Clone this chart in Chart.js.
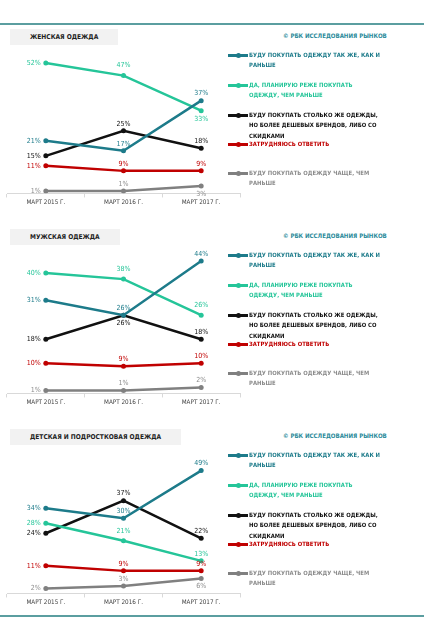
<!DOCTYPE html>
<html>
<head>
<meta charset="utf-8">
<script src="https://cdn.jsdelivr.net/npm/chart.js@4.4.1/dist/chart.umd.min.js"></script>
<style>
  html, body { margin: 0; padding: 0; background: #fff; }
  body { width: 424px; height: 631px; position: relative; overflow: hidden;
         font-family: "Liberation Sans Narrow", "DejaVu Sans Condensed", sans-serif; }
  .rule { position: absolute; left: 0; width: 424px; background: #5b9ea0; }
  .panel { position: absolute; left: 0; width: 424px; height: 200px; }
  .title { position: absolute; left: 10px; top: 9px; height: 16px; line-height: 16px;
           padding: 0 20px; background: #f2f2f2; font-size: 6.6px; font-weight: bold; color: #222; }
  .wrap { position: absolute; left: 0; top: 18px; width: 246px; height: 172px; }
  .copy { position: absolute; left: 283px; top: 12px; font-size: 6.1px; font-weight: bold; color: #2a8a9a; white-space: nowrap; }
  .leg { position: absolute; left: 228px; font-size: 5.9px; font-weight: bold; line-height: 10.3px; }
  .leg .mk { position: absolute; left: 0; top: 4px; width: 20px; height: 2.5px; }
  .leg .dot { position: absolute; left: 8px; top: -1.5px; width: 5px; height: 5px; border-radius: 50%; }
  .leg .tx { margin-left: 21px; white-space: nowrap; }
</style>
</head>
<body>
<div class="rule" style="top:23px;height:2px;"></div>
<div class="rule" style="top:615px;height:1.5px;"></div>
<script>
/* категории и подписи */
const categories = ['МАРТ 2015 Г.', 'МАРТ 2016 Г.', 'МАРТ 2017 Г.'];
const panelTitles = ['ЖЕНСКАЯ ОДЕЖДА', 'МУЖСКАЯ ОДЕЖДА', 'ДЕТСКАЯ И ПОДРОСТКОВАЯ ОДЕЖДА'];
const copyright = '© РБК ИССЛЕДОВАНИЯ РЫНКОВ';
const seriesNames = [
  ['БУДУ ПОКУПАТЬ ОДЕЖДУ ТАК ЖЕ, КАК И', 'РАНЬШЕ'],
  ['ДА, ПЛАНИРУЮ РЕЖЕ ПОКУПАТЬ', 'ОДЕЖДУ, ЧЕМ РАНЬШЕ'],
  ['БУДУ ПОКУПАТЬ СТОЛЬКО ЖЕ ОДЕЖДЫ,', 'НО БОЛЕЕ ДЕШЕВЫХ БРЕНДОВ, ЛИБО СО', 'СКИДКАМИ'],
  ['ЗАТРУДНЯЮСЬ ОТВЕТИТЬ'],
  ['БУДУ ПОКУПАТЬ ОДЕЖДУ ЧАЩЕ, ЧЕМ', 'РАНЬШЕ'],
];
const seriesColors = ['#1d7b8a', '#25c599', '#111111', '#c00000', '#808080'];
const labelColors  = ['#1d7b8a', '#25c599', '#111111', '#c00000', '#8c8c8c'];

/* значения, % (ряды в порядке легенды) */
const womenData = [[21, 17, 37], [52, 47, 33], [15, 25, 18], [11, 9, 9], [1, 1, 3]];
const menData   = [[31, 26, 44], [40, 38, 26], [18, 26, 18], [10, 9, 10], [1, 1, 2]];
const kidsData  = [[34, 30, 49], [28, 21, 13], [24, 37, 22], [11, 9, 9], [2, 3, 6]];
const yMax = [60, 50, 60];

/* положение подписей: l - слева, t - сверху, T - выше, b - снизу */
const womenPos = [['l','t','t'], ['l','T','b'], ['l','t','t'], ['l','t','t'], ['l','t','b']];
const menPos   = [['l','t','t'], ['l','T','T'], ['l','b','t'], ['l','t','t'], ['l','t','t']];
const kidsPos  = [['l','t','t'], ['l','T','t'], ['l','t','t'], ['l','t','t'], ['l','t','b']];

const panels = [
  { data: womenData, pos: womenPos },
  { data: menData,   pos: menPos },
  { data: kidsData,  pos: kidsPos },
];

const legendRows = [35, 65, 95, 124, 153];
const FONT = '"Liberation Sans Narrow", "DejaVu Sans Condensed", sans-serif';

const pointLabels = {
  id: 'pointLabels',
  afterDatasetsDraw(chart, args, opts) {
    const ctx = chart.ctx;
    ctx.save();
    ctx.font = '7px ' + FONT;
    ctx.textBaseline = 'middle';
    chart.data.datasets.forEach((ds, i) => {
      const meta = chart.getDatasetMeta(i);
      meta.data.forEach((pt, j) => {
        const p = opts.pos[i][j];
        ctx.fillStyle = labelColors[i];
        let x = pt.x, y = pt.y;
        if (p === 'l') { ctx.textAlign = 'right'; x -= 5; }
        else if (p === 't') { ctx.textAlign = 'center'; y -= 7; }
        else if (p === 'T') { ctx.textAlign = 'center'; y -= 10; }
        else { ctx.textAlign = 'center'; y += 8; }
        ctx.fillText(ds.data[j] + '%', x, y);
      });
    });
    ctx.restore();
  }
};

panels.forEach((pn, k) => {
  const el = document.createElement('div');
  el.className = 'panel';
  el.style.top = (20 + 200 * k) + 'px';
  el.innerHTML = '<div class="title">' + panelTitles[k] + '</div>' +
    '<div class="copy">' + copyright + '</div>' +
    '<div class="wrap"><canvas></canvas></div>';
  seriesNames.forEach((lines, i) => {
    const lg = document.createElement('div');
    lg.className = 'leg';
    lg.style.top = (legendRows[i] - 5) + 'px';
    lg.style.color = labelColors[i];
    lg.innerHTML = '<div class="mk" style="background:' + seriesColors[i] + '">' +
      '<div class="dot" style="background:' + seriesColors[i] + '"></div></div>' +
      '<div class="tx">' + lines.join('<br>') + '</div>';
    el.appendChild(lg);
  });
  document.body.appendChild(el);

  new Chart(el.querySelector('canvas'), {
    type: 'line',
    data: {
      labels: categories,
      datasets: pn.data.map((vals, i) => ({
        label: seriesNames[i].join(' '),
        data: vals,
        borderColor: seriesColors[i],
        backgroundColor: seriesColors[i],
        borderWidth: 2.5,
        pointRadius: 2.5,
        pointBorderWidth: 0,
        tension: 0,
      })),
    },
    options: {
      responsive: true, maintainAspectRatio: false,
      animation: false,
      layout: { padding: { left: 7, right: 6, top: 5, bottom: 2 } },
      plugins: {
        legend: { display: false },
        tooltip: { enabled: false },
        pointLabels: { pos: pn.pos },
      },
      scales: {
        x: {
          offset: true,
          grid: { offset: true, drawOnChartArea: false, tickLength: 4, color: '#d9d9d9' },
          border: { color: '#d9d9d9' },
          ticks: { color: '#404040', font: { size: 6.3, family: FONT }, padding: 1.5, maxRotation: 0 },
        },
        y: { display: false, min: 0, max: yMax[k] },
      },
    },
    plugins: [pointLabels],
  });
});
</script>
</body>
</html>
